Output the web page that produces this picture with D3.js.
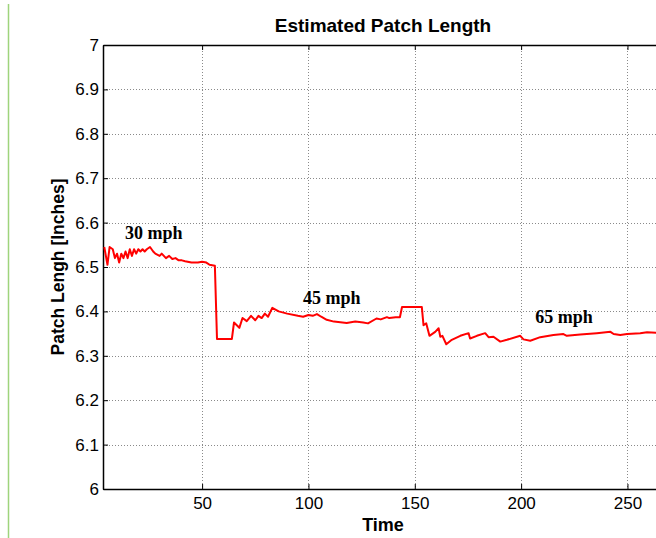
<!DOCTYPE html>
<html>
<head>
<meta charset="utf-8">
<script src="https://cdn.jsdelivr.net/npm/d3@7"></script>
<style>
  body { margin: 0; background: #fff; }
  svg { display: block; }
</style>
</head>
<body>
<svg id="chart" width="656" height="538"></svg>
<script>
// time / patch length
var times = [4, 5.5, 6.5, 8, 9, 10, 11, 12, 13, 14, 15, 16, 17, 18, 19, 20, 21, 22, 23, 24,
  25.5, 27, 28, 30, 31, 33, 34.5, 36, 37.5, 39, 40.5, 42, 45, 48, 50, 52, 53.5, 56,
  57, 64, 65, 67.5, 69, 71, 73, 75, 76.5, 78, 79.5, 81, 83, 86, 90, 95, 97.5, 100, 102, 104,
  106, 108.6, 112, 118, 122, 125.8, 128, 132, 134, 136.9, 138, 141, 143, 144, 153.3,
  154.1, 155.4, 156.9, 159.6, 161.2, 162, 163, 164.8, 167.4, 171.4, 175.3, 176, 179.2,
  183.1, 184.7, 187, 190.2, 193.3, 199.6, 201.1, 204.3, 209, 215.2, 219.9, 221.5, 227.8,
  235.6, 242, 243.5, 246.6, 249.8, 256, 259.2, 264]
var lengths = [6.545, 6.505, 6.545, 6.54, 6.52, 6.53, 6.51, 6.53, 6.52, 6.535, 6.52, 6.54, 6.525, 6.54, 6.53, 6.54, 6.535, 6.54, 6.535, 6.54,
  6.545, 6.535, 6.53, 6.525, 6.53, 6.52, 6.525, 6.518, 6.52, 6.515, 6.515, 6.513, 6.51, 6.51, 6.512, 6.51, 6.505, 6.503,
  6.338, 6.338, 6.375, 6.363, 6.385, 6.378, 6.39, 6.38, 6.39, 6.385, 6.395, 6.388, 6.408, 6.4, 6.395, 6.39, 6.388, 6.392, 6.39, 6.394,
  6.388, 6.381, 6.377, 6.374, 6.377, 6.375, 6.373, 6.384, 6.382, 6.387, 6.385, 6.387, 6.387, 6.41, 6.41,
  6.369, 6.373, 6.345, 6.354, 6.362, 6.343, 6.345, 6.326, 6.336, 6.345, 6.351, 6.339, 6.345,
  6.351, 6.342, 6.343, 6.332, 6.336, 6.345, 6.337, 6.334, 6.342, 6.347, 6.349, 6.345, 6.348,
  6.351, 6.354, 6.349, 6.347, 6.349, 6.351, 6.353, 6.352]

var xTicks = [50, 100, 150, 200, 250]
var yTicks = [6, 6.1, 6.2, 6.3, 6.4, 6.5, 6.6, 6.7, 6.8, 6.9, 7]

var notes = ["30 mph", "45 mph", "65 mph"]
var noteT = [13.8, 97.4, 206.6]
var noteV = [6.563, 6.416, 6.373]

var svg = d3.select('#chart')
var pLeft = 103, pTop = 45, pBottom = 489, pRight = 660

var x = d3.scaleLinear().domain([3.4, 265.3]).range([pLeft, pRight])
var y = d3.scaleLinear().domain([6, 7]).range([pBottom, pTop])

// stray green line at the left edge
svg.append('line')
  .attr('x1', 8.5).attr('x2', 8.5).attr('y1', 4).attr('y2', 538)
  .attr('stroke', '#9ed47c').attr('stroke-width', 1.5)

// grid
var grid = svg.append('g').attr('stroke', '#8a8a8a').attr('stroke-width', 1)
  .attr('stroke-dasharray', '1,2').attr('shape-rendering', 'crispEdges')
grid.selectAll('.gx').data(xTicks).enter().append('line')
  .attr('x1', function(d){ return Math.round(x(d)) + 0.5 })
  .attr('x2', function(d){ return Math.round(x(d)) + 0.5 })
  .attr('y1', pTop).attr('y2', pBottom)
grid.selectAll('.gy').data(yTicks.slice(1, -1)).enter().append('line')
  .attr('y1', function(d){ return Math.round(y(d)) + 0.5 })
  .attr('y2', function(d){ return Math.round(y(d)) + 0.5 })
  .attr('x1', pLeft).attr('x2', pRight)

// axes, matlab style inward ticks
var xAxis = d3.axisBottom(x).tickValues(xTicks).tickSizeInner(-5).tickSizeOuter(0).tickPadding(8)
var yAxis = d3.axisLeft(y).tickValues(yTicks).tickSizeInner(-5).tickSizeOuter(0).tickPadding(4)
  .tickFormat(function(d){ return d3.format('~g')(d) })

var gx = svg.append('g').attr('transform', 'translate(0,' + pBottom + ')').call(xAxis)
var gy = svg.append('g').attr('transform', 'translate(' + pLeft + ',0)').call(yAxis)
svg.append('g').attr('transform', 'translate(0,' + pTop + ')')
  .call(d3.axisTop(x).tickValues(xTicks).tickSizeInner(-5).tickSizeOuter(0).tickFormat(''))

svg.selectAll('.domain').attr('stroke', '#000').attr('stroke-width', 1.5)
svg.selectAll('.tick line').attr('stroke', '#000')
svg.selectAll('.tick text').attr('font-family', 'Liberation Sans, Arial, sans-serif')
  .attr('font-size', 17).attr('fill', '#000')

// line
svg.append('clipPath').attr('id', 'clip').append('rect')
  .attr('x', pLeft).attr('y', pTop).attr('width', pRight - pLeft).attr('height', pBottom - pTop)

var pts = times.map(function(t, i){ return [t, lengths[i]] })
svg.append('path').datum(pts)
  .attr('clip-path', 'url(#clip)')
  .attr('fill', 'none').attr('stroke', '#ff0000').attr('stroke-width', 2)
  .attr('stroke-linejoin', 'round')
  .attr('d', d3.line().x(function(d){ return x(d[0]) }).y(function(d){ return y(d[1]) }))

// speed notes
svg.selectAll('.note').data(notes).enter().append('text')
  .attr('x', function(d, i){ return x(noteT[i]) })
  .attr('y', function(d, i){ return y(noteV[i]) })
  .attr('font-family', 'Liberation Serif, Times New Roman, serif')
  .attr('font-weight', 'bold').attr('font-size', 18)
  .text(function(d){ return d })

// titles
svg.append('text').attr('x', 383).attr('y', 32).attr('text-anchor', 'middle')
  .attr('font-family', 'Liberation Sans, Arial, sans-serif').attr('font-weight', 'bold')
  .attr('font-size', 19).text('Estimated Patch Length')
svg.append('text').attr('x', 383).attr('y', 531).attr('text-anchor', 'middle')
  .attr('font-family', 'Liberation Sans, Arial, sans-serif').attr('font-weight', 'bold')
  .attr('font-size', 18).text('Time')
svg.append('text').attr('transform', 'translate(64,' + y(6.5) + ') rotate(-90)')
  .attr('text-anchor', 'middle')
  .attr('font-family', 'Liberation Sans, Arial, sans-serif').attr('font-weight', 'bold')
  .attr('font-size', 17.5).text('Patch Lengh [Inches]')
</script>
</body>
</html>
